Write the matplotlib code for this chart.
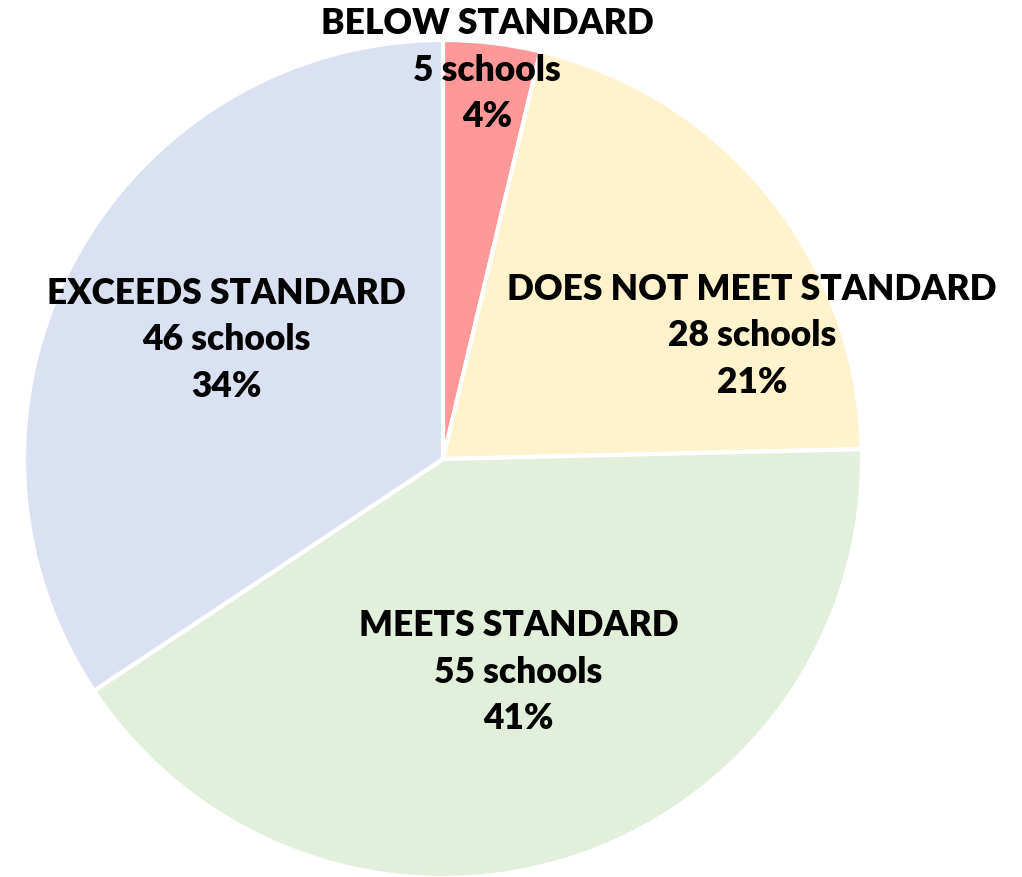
import matplotlib.pyplot as plt

# данные
categories = ['BELOW STANDARD', 'DOES NOT MEET STANDARD', 'MEETS STANDARD', 'EXCEEDS STANDARD']
schools = [5, 28, 55, 46]
percents = ['4%', '21%', '41%', '34%']
colors = ['#FF9999', '#FFF2CC', '#E2EFDA', '#D9E1F2']

# положение подписей (в радиусах от центра)
label_pos = [(0.105, 0.93), (0.737, 0.297), (0.18, -0.507), (-0.516, 0.287)]

fig = plt.figure(figsize=(10.22, 8.78), dpi=100)
ax = fig.add_axes([24 / 1022, -1 / 878, 838 / 1022, 838 / 878])

ax.pie(schools, colors=colors, startangle=90, counterclock=False,
       wedgeprops=dict(edgecolor='white', linewidth=3), radius=1)
ax.set_xlim(-1, 1)
ax.set_ylim(-1, 1)
ax.set_aspect('auto')
ax.axis('off')

for name, n, p, (x, y) in zip(categories, schools, percents, label_pos):
    ax.text(x, y, f'{name}\n{n} schools\n{p}', ha='center', va='center',
            fontsize=25.5, fontweight='heavy', family=['Lato', 'DejaVu Sans'],
            linespacing=1.5, clip_on=False)

fig.savefig('out.png', dpi=100)
